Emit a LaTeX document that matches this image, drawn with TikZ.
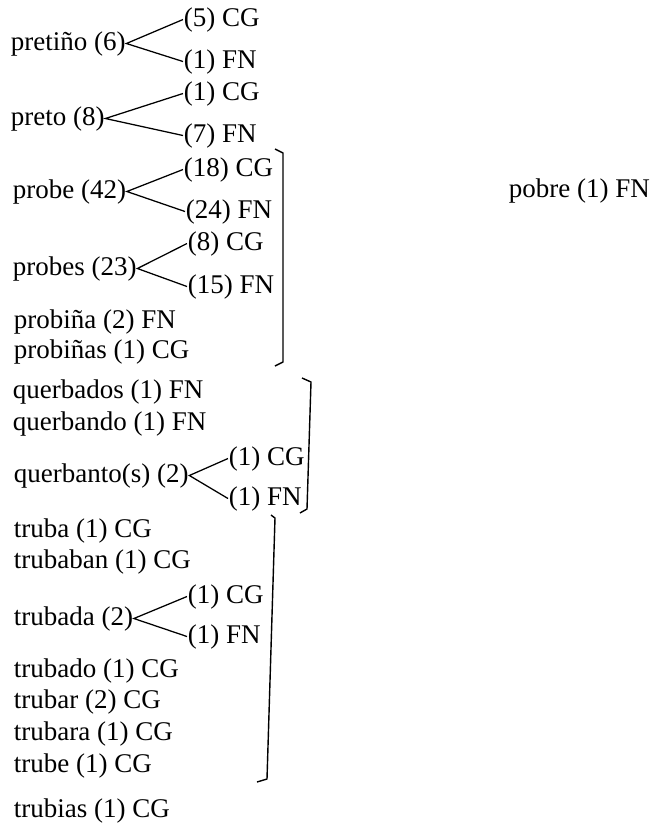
\documentclass[tikz,border=0pt]{standalone}
\usepackage{fontspec}
\setmainfont{Liberation Serif}
\begin{document}
\begin{tikzpicture}[
    x=0.025cm, y=-0.025cm,
    word/.style={anchor=base west, inner sep=0.6pt, outer sep=0pt, font=\fontsize{19.2}{23}\selectfont},
    branch/.style={line width=0.9pt},
    bracket/.style={line width=1pt, line join=round}
]
\useasboundingbox (0,0) rectangle (652,825);

% pretiño
\node[word] (pretino) at (10,50) {pretiño (6)};
\node[word] (pretinocg) at (183,26) {(5) CG};
\node[word] (pretinofn) at (183,68) {(1) FN};

% preto
\node[word] (preto) at (10,125) {preto (8)};
\node[word] (pretocg) at (183,100) {(1) CG};
\node[word] (pretofn) at (183,142) {(7) FN};

% probe group
\node[word] (probe) at (12,198) {probe (42)};
\node[word] (probecg) at (183,176) {(18) CG};
\node[word] (probefn) at (185,218) {(24) FN};
\node[word] (probes) at (12,275) {probes (23)};
\node[word] (probescg) at (187,250) {(8) CG};
\node[word] (probesfn) at (187,293) {(15) FN};
\node[word] (probina) at (13,328) {probiña (2) FN};
\node[word] (probinas) at (13,358) {probiñas (1) CG};

% pobre
\node[word] (pobre) at (508,197) {pobre (1) FN};

% querbado group
\node[word] (querbados) at (12,398) {querbados (1) FN};
\node[word] (querbando) at (12,430) {querbando (1) FN};
\node[word] (querbanto) at (13,482) {querbanto(s) (2)};
\node[word] (querbantocg) at (228,465) {(1) CG};
\node[word] (querbantofn) at (228,505) {(1) FN};

% truba group
\node[word] (truba) at (13,537) {truba (1) CG};
\node[word] (trubaban) at (13,568) {trubaban (1) CG};
\node[word] (trubada) at (13,625) {trubada (2)};
\node[word] (trubadacg) at (187,603) {(1) CG};
\node[word] (trubadafn) at (187,643) {(1) FN};
\node[word] (trubado) at (13,677) {trubado (1) CG};
\node[word] (trubar) at (13,708) {trubar (2) CG};
\node[word] (trubara) at (13,740) {trubara (1) CG};
\node[word] (trube) at (13,772) {trube (1) CG};
\node[word] (trubias) at (13,817) {trubias (1) CG};

% Branches
\draw[branch] (pretinocg.west) -- (pretino.east) -- (pretinofn.west);
\draw[branch] (pretocg.west) -- (preto.east) -- (pretofn.west);
\draw[branch] (probecg.west) -- (probe.east) -- (probefn.west);
\draw[branch] (probescg.west) -- (probes.east) -- (probesfn.west);
\draw[branch] (querbantocg.west) -- (querbanto.east) -- (querbantofn.west);
\draw[branch] (trubadacg.west) -- (trubada.east) -- (trubadafn.west);

% Brackets
\draw[bracket] (275,149) -- (283,153) -- (283,362) -- (275,366);
\draw[bracket] (302,378) -- (311,382) -- (307,509) -- (300,513);
\draw[bracket] (271,515) -- (275,518) -- (267,779) -- (257,782);

\end{tikzpicture}
\end{document}
